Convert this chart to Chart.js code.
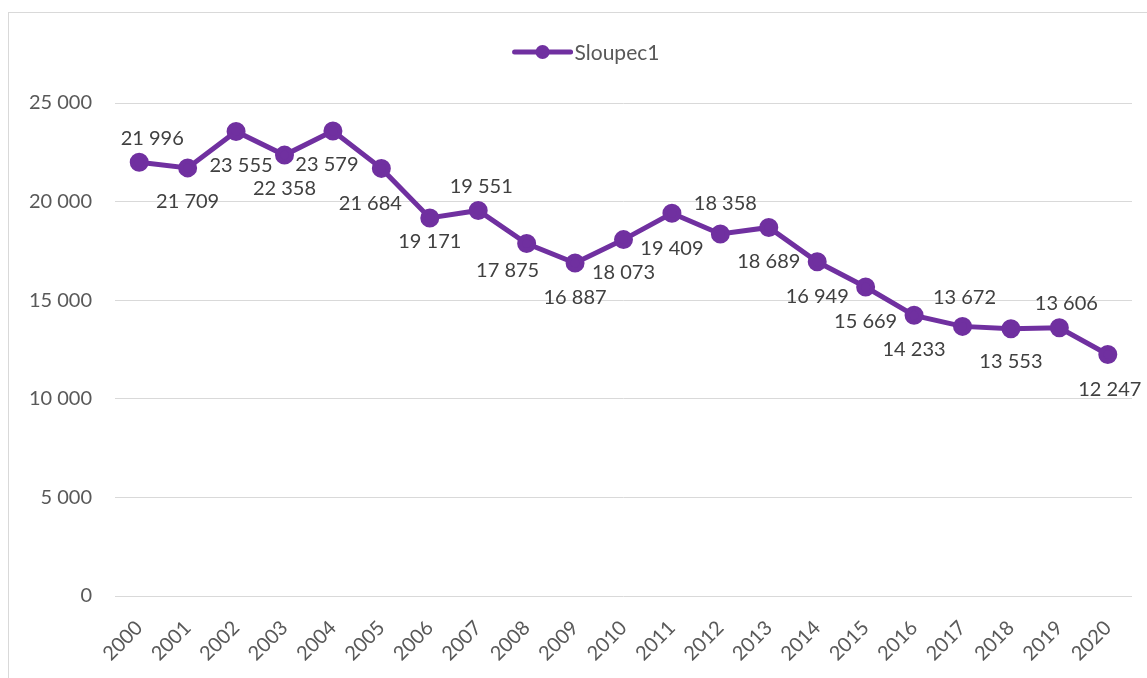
<!DOCTYPE html>
<html>
<head>
<meta charset="utf-8">
<script src="https://cdn.jsdelivr.net/npm/chart.js@4.4.1/dist/chart.umd.min.js"></script>
<style>
  html, body { margin: 0; padding: 0; background: #fff; }
  #wrap { width: 1147px; height: 678px; }
</style>
</head>
<body>
<div id="wrap"><canvas id="lineChart" width="1147" height="678"></canvas></div>
<script>
/* ---------- DATA ---------- */
const years = [
  "2000", "2001", "2002", "2003", "2004", "2005", "2006",
  "2007", "2008", "2009", "2010", "2011", "2012", "2013",
  "2014", "2015", "2016", "2017", "2018", "2019", "2020"
];
const sloupec1 = [
  21996, 21709, 23555, 22358, 23579, 21684, 19171,
  19551, 17875, 16887, 18073, 19409, 18358, 18689,
  16949, 15669, 14233, 13672, 13553, 13606, 12247
];
const yTicks = [0, 5000, 10000, 15000, 20000, 25000];

/* label nudges in px (dx, dy) relative to each point */
const labelOffsets = [
  [13, -24], [0, 34], [5, 34], [0, 33], [-6, 34], [-11, 35], [0, 24],
  [3, -24], [-19, 27], [0, 35], [0, 33], [0, 35], [5, -30], [0, 34],
  [0, 35], [0, 35], [0, 34], [2, -29], [0, 33], [7, -24], [2, 35]
];

const purple = "#7030A0";
const fontFamily = "Lato, 'Open Sans', sans-serif";

function fmt(v) {
  return String(v).replace(/\B(?=(\d{3})+(?!\d))/g, " ");
}

/* ---------- PLUGINS ---------- */
const framePlugin = {
  id: "frame",
  beforeDraw(chart) {
    const ctx = chart.ctx;
    ctx.save();
    ctx.strokeStyle = "#d9d9d9";
    ctx.lineWidth = 1;
    ctx.strokeRect(8.5, 12.5, 1200, 700);
    ctx.restore();
  }
};

const legendPlugin = {
  id: "customLegend",
  afterDraw(chart) {
    const ctx = chart.ctx;
    const ds = chart.data.datasets[0];
    ctx.save();
    ctx.font = "21px " + fontFamily;
    const tw = ctx.measureText(ds.label).width;
    const total = 56 + 4 + tw;
    const x0 = 587 - total / 2;
    const y = 52;
    ctx.strokeStyle = ds.borderColor;
    ctx.lineWidth = 5;
    ctx.lineCap = "round";
    ctx.beginPath();
    ctx.moveTo(x0, y);
    ctx.lineTo(x0 + 56, y);
    ctx.stroke();
    ctx.fillStyle = ds.pointBackgroundColor;
    ctx.beginPath();
    ctx.arc(x0 + 28, y, 7, 0, Math.PI * 2);
    ctx.fill();
    ctx.fillStyle = "#595959";
    ctx.textAlign = "left";
    ctx.textBaseline = "middle";
    ctx.fillText(ds.label, x0 + 60, y + 1);
    ctx.restore();
  }
};

const dataLabelPlugin = {
  id: "dataLabels",
  afterDatasetsDraw(chart) {
    const ctx = chart.ctx;
    const meta = chart.getDatasetMeta(0);
    const values = chart.data.datasets[0].data;
    ctx.save();
    ctx.font = "20px " + fontFamily;
    ctx.fillStyle = "#404040";
    ctx.textAlign = "center";
    ctx.textBaseline = "middle";
    meta.data.forEach((pt, i) => {
      const off = labelOffsets[i] || [0, -24];
      ctx.fillText(fmt(values[i]), pt.x + off[0], pt.y + off[1]);
    });
    ctx.restore();
  }
};

/* ---------- CHART ---------- */
const chart = new Chart(document.getElementById("lineChart"), {
  type: "line",
  data: {
    labels: years,
    datasets: [{
      label: "Sloupec1",
      data: sloupec1,
      borderColor: purple,
      backgroundColor: purple,
      pointBackgroundColor: purple,
      pointBorderColor: purple,
      borderWidth: 5,
      pointRadius: 7,
      pointHoverRadius: 7,
      tension: 0,
      fill: false
    }]
  },
  options: {
    responsive: false,
    animation: false,
    layout: { padding: { top: 103, left: 8, right: 15, bottom: 0 } },
    plugins: {
      legend: { display: false },
      tooltip: { enabled: false }
    },
    scales: {
      x: {
        offset: true,
        grid: { display: false, drawTicks: false },
        border: { display: false },
        ticks: {
          color: "#595959",
          font: { family: fontFamily, size: 20 },
          autoSkip: false,
          maxRotation: 45,
          minRotation: 45,
          padding: 20
        },
        afterFit(scale) { scale.height = 82; }
      },
      y: {
        min: yTicks[0],
        max: yTicks[yTicks.length - 1],
        afterBuildTicks(scale) {
          scale.ticks = yTicks.map(v => ({ value: v }));
        },
        grid: { color: "#d9d9d9", lineWidth: 1, drawTicks: false },
        border: { display: false },
        ticks: {
          color: "#595959",
          font: { family: fontFamily, size: 20 },
          padding: 23,
          callback: v => fmt(v)
        },
        afterFit(scale) { scale.width = 107; }
      }
    }
  },
  plugins: [framePlugin, legendPlugin, dataLabelPlugin]
});
</script>
</body>
</html>
